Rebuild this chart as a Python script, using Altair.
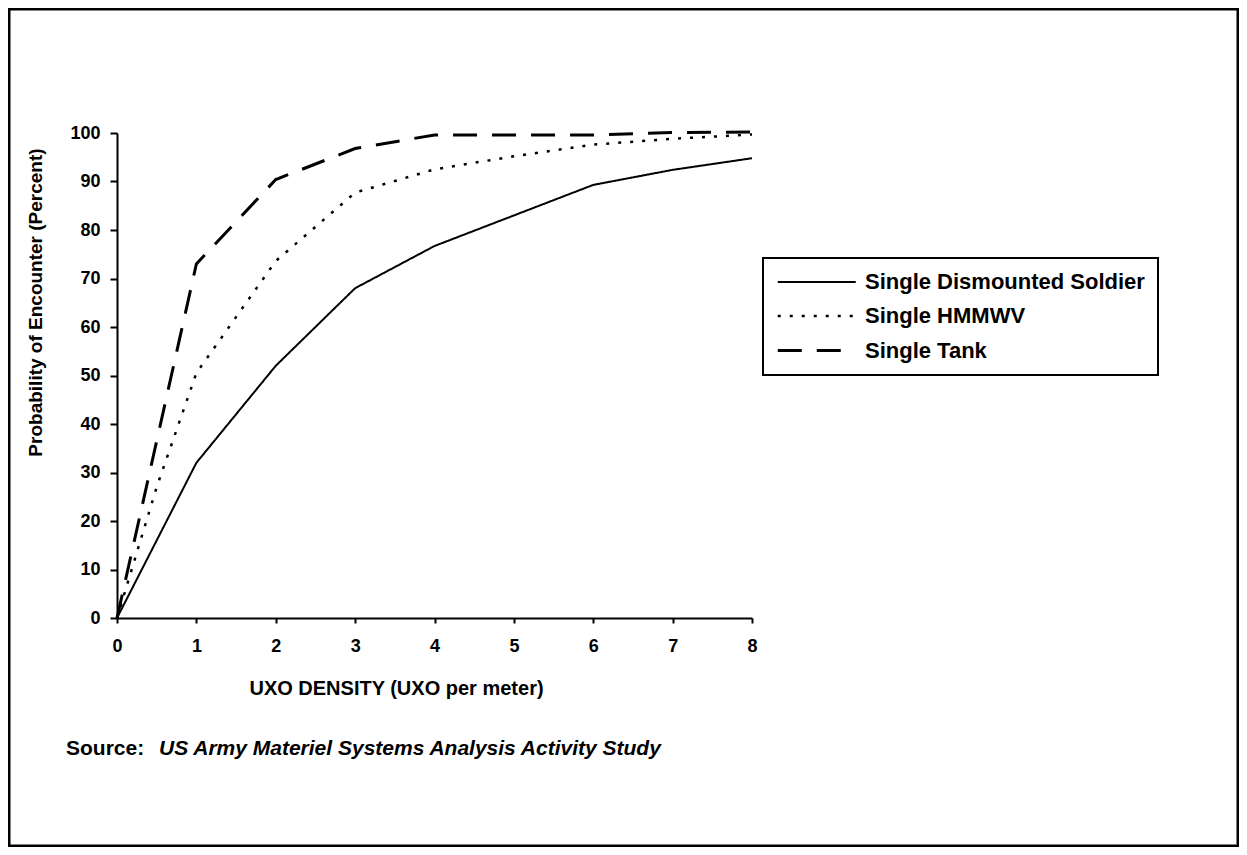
import altair as alt
import pandas as pd

series_names = ["Single Dismounted Soldier", "Single HMMWV", "Single Tank"]

soldier_x = [0, 1, 2, 3, 4, 5, 6, 7, 8]
soldier_y = [0, 32, 52, 68, 76.7, 83, 89.3, 92.4, 94.8]

hmmwv_x = [0, 0.5, 1, 2, 3, 4, 5, 6, 7, 8]
hmmwv_y = [0, 27, 50.5, 73.6, 87.7, 92.5, 95.2, 97.6, 98.8, 99.7]

tank_x = [0, 1, 2, 3, 4, 5, 6, 7, 8]
tank_y = [0, 73, 90.4, 96.8, 99.6, 99.6, 99.6, 100.1, 100.2]

rows = []
for name, xs, ys in [(series_names[0], soldier_x, soldier_y),
                     (series_names[1], hmmwv_x, hmmwv_y),
                     (series_names[2], tank_x, tank_y)]:
    for i, (a, b) in enumerate(zip(xs, ys)):
        rows.append({"series": name, "density": a, "prob": b, "order": i})
df = pd.DataFrame(rows)

FONT = "Liberation Sans"
W, H = 635, 485

lines = alt.Chart(df).mark_line(color="black", clip=False).encode(
    x=alt.X("density:Q",
            scale=alt.Scale(domain=[0, 8], nice=False),
            axis=alt.Axis(values=[0, 1, 2, 3, 4, 5, 6, 7, 8], format="d",
                          title="UXO DENSITY (UXO per meter)",
                          titleX=279, titleY=70, titleAlign="center",
                          titleBaseline="middle", tickSize=5, labelPadding=14,
                          labelFlush=False, grid=False)),
    y=alt.Y("prob:Q",
            scale=alt.Scale(domain=[0, 100], nice=False),
            axis=alt.Axis(values=list(range(0, 101, 10)),
                          title="Probability of Encounter (Percent)",
                          titleX=-82, titleY=169, titleAlign="center",
                          titleBaseline="middle", titleAngle=-90,
                          titleFontSize=19,
                          tickSize=7, labelPadding=10, labelFlush=False,
                          grid=False)),
    strokeDash=alt.StrokeDash("series:N",
                              scale=alt.Scale(domain=series_names,
                                              range=[[1, 0], [3, 9], [24, 15]]),
                              legend=alt.Legend(title=None)),
    strokeWidth=alt.StrokeWidth("series:O",
                                scale=alt.Scale(domain=series_names, range=[2, 3, 4]),
                                legend=alt.Legend(title=None)),
    order="order:Q",
    detail="series:N",
)

frame = alt.Chart(pd.DataFrame({"k": [0]})).mark_rect(
    fill=None, stroke="black", strokeWidth=3
).encode(
    x=alt.value(-108), x2=alt.value(W + 486),
    y=alt.value(-124), y2=alt.value(H + 228),
)

source_label = ["Source:"]
source_text = ["US Army Materiel Systems Analysis Activity Study"]

src1 = alt.Chart(pd.DataFrame({"t": source_label})).mark_text(
    font=FONT, fontSize=21, fontWeight="bold", align="left", baseline="middle"
).encode(x=alt.value(-51), y=alt.value(616), text="t:N")

src2 = alt.Chart(pd.DataFrame({"t": source_text})).mark_text(
    font=FONT, fontSize=21, fontWeight="bold", fontStyle="italic",
    align="left", baseline="middle"
).encode(x=alt.value(42), y=alt.value(616), text="t:N")

chart = alt.layer(frame, lines, src1, src2).properties(
    width=W, height=H,
    autosize=alt.AutoSizeParams(type="none"),
    padding={"left": 109, "top": 125, "right": 487, "bottom": 229},
).configure_view(stroke=None).configure_axis(
    domainColor="black", domainWidth=2, tickColor="black", tickWidth=2,
    labelFont=FONT, labelFontSize=18, labelFontWeight="bold", labelColor="black",
    titleFont=FONT, titleFontSize=20, titleFontWeight="bold", titleColor="black",
).configure_legend(
    orient="none", legendX=646, legendY=125,
    strokeColor="black", strokeWidth=2, fillColor="white", padding=13,
    symbolType="M-1,0H7", symbolSize=380, symbolStrokeColor="black",
    labelFont=FONT, labelFontSize=22, labelFontWeight="bold", labelColor="black",
    labelOffset=66, rowPadding=12, labelLimit=400,
)

chart.save("out.html", embed_options={"renderer": "svg", "actions": False})
